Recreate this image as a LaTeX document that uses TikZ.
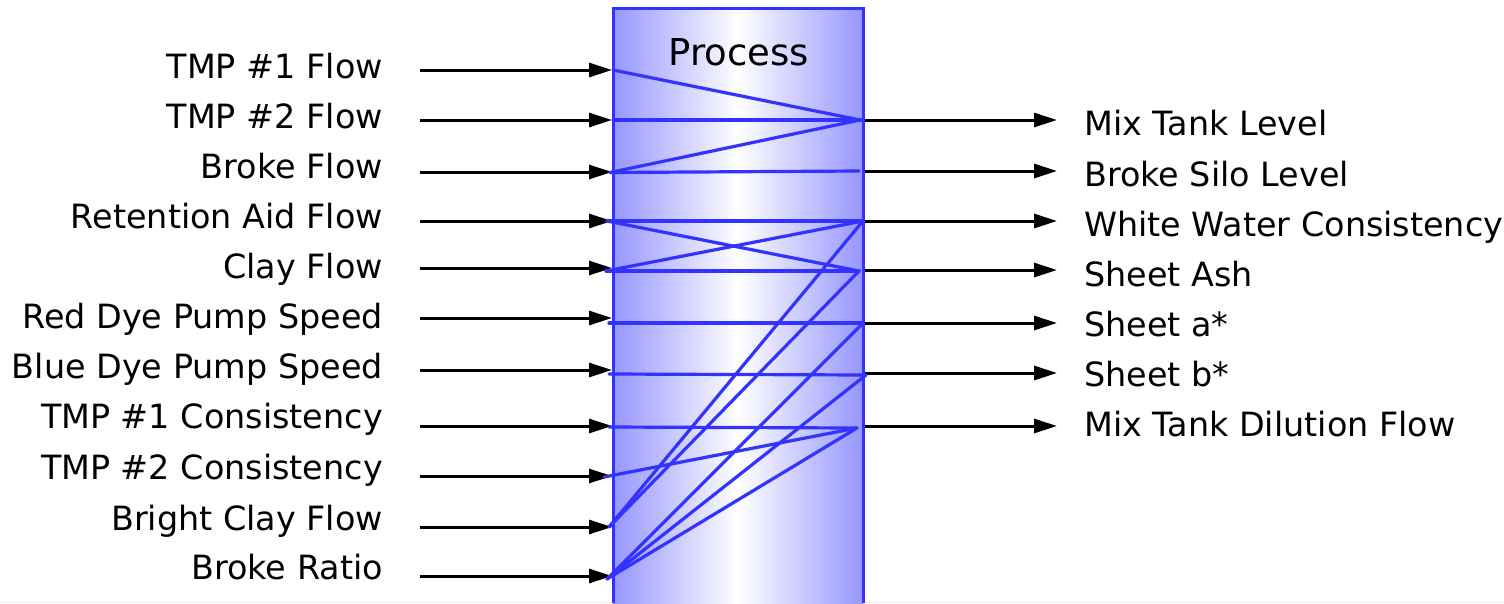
\documentclass[tikz,border=0pt]{standalone}
\usepackage{fontspec}
\setmainfont{DejaVu Sans}
\usetikzlibrary{arrows.meta}
\definecolor{boxfill}{RGB}{150,150,255}
\definecolor{boxline}{RGB}{51,51,255}
\tikzset{
  lbl/.style={font=\fontsize{33.4}{38}\selectfont, inner sep=0pt},
  arr/.style={line width=3pt, -{Triangle[length=23pt,width=14pt]}},
  flow/.style={boxline, line width=3.2pt, line cap=round}
}
\begin{document}
\begin{tikzpicture}[x=1pt,y=-1pt]
\useasboundingbox (0,0) rectangle (1504,603);
\fill[gray!15] (0,601.5) rectangle (1504,603);
\fill[left color=boxfill,right color=boxfill,middle color=white] (613,8) rectangle (863,603);
\node[font=\fontsize{37}{42}\selectfont, anchor=base, inner sep=0pt] (proc) at (738.5,65) {Process};

% inputs
\foreach \t/\y/\b [count=\i] in {TMP \#1 Flow/70/78, TMP \#2 Flow/120/128, Broke Flow/172/178, Retention Aid Flow/221/228, Clay Flow/268/278, Red Dye Pump Speed/318/328, Blue Dye Pump Speed/370/378, TMP \#1 Consistency/426/428, TMP \#2 Consistency/476/479, Bright Clay Flow/527/530, Broke Ratio/576/579}{
  \node[lbl,anchor=base east] (inl\i) at (383,\b) {\t};
  \coordinate (ins\i) at (420,\y);
  \coordinate (ine\i) at (612,\y);
  \draw[arr] (ins\i) -- (ine\i);
}
% outputs
\foreach \t/\y/\b [count=\j] in {Mix Tank Level/120/135, Broke Silo Level/171/186, White Water Consistency/221/236, Sheet Ash/270/286, Sheet a*/323/336, Sheet b*/373/386, Mix Tank Dilution Flow/426/436}{
  \node[lbl,anchor=base west] (outl\j) at (1084,\b) {\t};
  \coordinate (os\j) at (863,\y);
  \coordinate (oe\j) at (1057,\y);
  \draw[arr] (os\j) -- (oe\j);
}

% internal connection points
\coordinate (L1) at (613,70);
\coordinate (L2) at (613,120);
\coordinate (L3) at (610,172.5);
\coordinate (L4) at (607,221);
\coordinate (L5) at (606,271);
\coordinate (L6) at (609,323);
\coordinate (L7) at (609,374);
\coordinate (L8) at (609,427);
\coordinate (L9) at (604,477);
\coordinate (L10) at (609,527);
\coordinate (L11) at (607,579);
\coordinate (R1) at (860,120);
\coordinate (R1h) at (863,120);
\coordinate (R2) at (859,171);
\coordinate (R3) at (863,221);
\coordinate (R4) at (859,271);
\coordinate (R5) at (863,323);
\coordinate (R6) at (866,375);
\coordinate (R7) at (857,428);

\draw[flow] (L1) -- (R1);
\draw[flow] (L2) -- (R1h);
\draw[flow] (L3) -- (R1);
\draw[flow] (L3) -- (R2);
\draw[flow] (L4) -- (R3);
\draw[flow] (L4) -- (R4);
\draw[flow] (L5) -- (R4);
\draw[flow] (L5) -- (R3);
\draw[flow] (L6) -- (R5);
\draw[flow] (L7) -- (R6);
\draw[flow] (L8) -- (R7);
\draw[flow] (L9) -- (R7);
\draw[flow] (L10) -- (R3);
\draw[flow] (L10) -- (R4);
\draw[flow] (L11) -- (R5);
\draw[flow] (L11) -- (R6);
\draw[flow] (L11) -- (R7);

\draw[boxline, line width=3pt] (613,603) -- (613,8) -- (863,8) -- (863,603);
\end{tikzpicture}
\end{document}
